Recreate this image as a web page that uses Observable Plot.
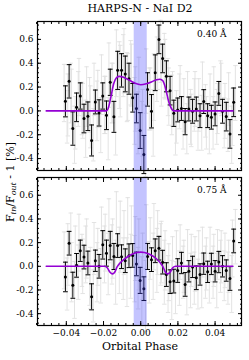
<!DOCTYPE html>
<html><head><meta charset="utf-8">
<script src="https://cdn.jsdelivr.net/npm/d3@7"></script>
<script src="https://cdn.jsdelivr.net/npm/@observablehq/plot@0.6"></script>
<style>
body{margin:0;background:#fff;}
#wrap{position:relative;width:249px;height:360px;font-family:"DejaVu Serif",serif;color:#000;overflow:hidden;}
#wrap svg{position:absolute;left:0;}
.title{position:absolute;left:39px;width:202px;top:2px;text-align:center;font-size:11px;}
.xlab{position:absolute;left:39px;width:202px;top:340px;text-align:center;font-size:11px;}
.ylab{position:absolute;left:11px;top:182px;transform:translate(-50%,-50%) rotate(-90deg);white-space:nowrap;font-size:11px;}
.ylab sub{font-size:8px;font-style:italic;vertical-align:-2px;}
</style></head><body><div id="wrap">
<div class="title">HARPS-N - NaI D2</div>
<div class="ylab">F<sub>in</sub>/F<sub>out</sub> - 1 [%]</div>
<div class="xlab">Orbital Phase</div>
</div>
<script>
const phase = [-0.0405,-0.0385,-0.0365,-0.0345,-0.0325,-0.0305,-0.0284,-0.0264,-0.0244,-0.0224,-0.0204,-0.0184,-0.0164,-0.0144,-0.0124,-0.0103,-0.0083,-0.0063,-0.0043,-0.0023,-0.0003,0.0017,0.0037,0.0058,0.0078,0.0098,0.0118,0.0138,0.0158,0.0178,0.0199,0.0219,0.0239,0.0259,0.0279,0.0299,0.0319,0.0339,0.036,0.038,0.04,0.042,0.044,0.046,0.048,0.05];
const topVal = [0.08,0.248,-0.148,0.03,0.125,-0.064,-0.045,-0.248,0.075,-0.017,0.125,-0.037,0.24,-0.05,0.34,0.34,0.31,0.27,0.11,0.02,-0.165,-0.366,0.18,-0.003,0.32,0.6,0.44,0.29,0.17,-0.02,0.008,0.02,-0.09,0.016,-0.003,0.016,-0.04,0.078,-0.04,-0.053,-0.025,0.147,-0.003,-0.048,-0.193,0.072];
const topErr = [0.13,0.14,0.14,0.12,0.11,0.12,0.12,0.13,0.10,0.11,0.11,0.12,0.11,0.13,0.16,0.14,0.15,0.13,0.12,0.12,0.15,0.16,0.14,0.14,0.15,0.12,0.12,0.13,0.12,0.11,0.1,0.1,0.11,0.1,0.1,0.1,0.1,0.1,0.1,0.1,0.1,0.1,0.1,0.12,0.12,0.12];
const botVal = [-0.09,0.195,-0.16,0.008,0.131,0.078,0.028,-0.258,0.047,0.0,0.181,0.111,0.175,0.083,0.175,0.081,0.047,0.089,0.092,0.02,-0.119,-0.189,0.083,0.056,0.131,0.153,0.035,-0.07,-0.13,-0.125,-0.036,0.028,-0.153,-0.042,-0.005,-0.097,-0.069,0.022,-0.047,0.02,-0.042,0.036,0.0,-0.036,-0.103,0.214];
const botErr = [0.125,0.1,0.11,0.1,0.09,0.1,0.1,0.11,0.09,0.1,0.12,0.11,0.12,0.11,0.1,0.1,0.1,0.1,0.1,0.1,0.11,0.1,0.11,0.1,0.1,0.1,0.1,0.1,0.1,0.1,0.1,0.09,0.1,0.09,0.09,0.1,0.09,0.09,0.09,0.09,0.09,0.09,0.09,0.09,0.1,0.1];

const grayPhaseA = [-0.0412,-0.0392,-0.0372,-0.0352,-0.0332,-0.0312,-0.0291,-0.0271,-0.0251,-0.0231,-0.0211,-0.0191,-0.0171,-0.0151,-0.0131,-0.0110,-0.0090,-0.0070,-0.0050,-0.0030,-0.0010,0.0010,0.0030,0.0051,0.0071,0.0091,0.0111,0.0131,0.0151,0.0171,0.0192,0.0212,0.0232,0.0252,0.0272,0.0292,0.0312,0.0332,0.0353,0.0373,0.0393,0.0413,0.0433,0.0453,0.0473,0.0493];
const grayPhaseB = [-0.0396,-0.0376,-0.0356,-0.0336,-0.0316,-0.0296,-0.0275,-0.0255,-0.0235,-0.0215,-0.0195,-0.0175,-0.0155,-0.0135,-0.0115,-0.0094,-0.0074,-0.0054,-0.0034,-0.0014,0.0006,0.0026,0.0046,0.0067,0.0087,0.0107,0.0127,0.0147,0.0167,0.0187,0.0208,0.0228,0.0248,0.0268,0.0288,0.0308,0.0328,0.0348,0.0369,0.0389,0.0409,0.0429,0.0449,0.0469,0.0489,0.0509];
const topGrayA = [0.15,0.05,0.1,-0.1,0.2,0.0,0.12,-0.05,0.18,0.1,0.22,0.05,0.3,0.15,0.4,0.25,0.42,0.2,0.3,0.1,0.15,-0.1,0.25,0.1,0.2,0.45,0.3,0.35,0.12,0.1,-0.05,0.15,0.05,0.12,-0.08,0.1,0.05,0.2,-0.1,0.08,0.15,0.02,0.18,0.0,0.1,-0.05];
const topGrayB = [-0.05,0.15,-0.2,0.1,0.02,-0.15,0.05,-0.2,0.0,-0.12,0.05,-0.15,0.15,-0.1,0.3,0.38,0.2,0.32,0.0,-0.1,-0.2,-0.25,0.1,-0.1,0.35,0.5,0.38,0.2,0.05,-0.15,0.08,-0.1,-0.15,-0.05,0.05,-0.12,-0.1,0.0,-0.15,-0.1,-0.05,0.2,-0.1,-0.12,-0.2,0.15];
const botGrayA = [0.05,0.1,-0.05,0.12,0.2,0.0,0.15,-0.1,0.15,0.08,0.25,0.2,0.3,0.15,0.35,0.25,0.2,0.3,0.25,0.15,0.1,0.0,0.25,0.15,0.25,0.2,0.12,0.05,-0.05,0.02,0.08,0.12,0.0,0.1,0.05,0.02,0.08,0.12,0.02,0.1,0.05,0.1,0.08,0.05,0.0,0.15];
const botGrayB = [-0.15,0.2,-0.2,-0.05,0.05,0.1,-0.1,-0.25,-0.05,-0.08,0.1,0.02,0.1,-0.05,0.05,-0.02,-0.05,0.0,-0.02,-0.1,-0.2,-0.25,-0.05,0.0,0.05,0.1,-0.05,-0.15,-0.2,-0.18,-0.1,-0.05,-0.2,-0.12,-0.1,-0.15,-0.12,-0.05,-0.1,-0.05,-0.12,0.0,-0.08,-0.1,-0.15,0.25];
const grayErrA = [0.24,0.26,0.25,0.22,0.24,0.23,0.25,0.26,0.22,0.24,0.25,0.24,0.27,0.25,0.28,0.3,0.27,0.28,0.26,0.27,0.3,0.28,0.27,0.26,0.28,0.27,0.26,0.25,0.24,0.23,0.22,0.23,0.22,0.21,0.22,0.23,0.22,0.21,0.22,0.23,0.22,0.21,0.22,0.23,0.22,0.24];
const grayErrB = [0.22,0.25,0.24,0.23,0.22,0.24,0.23,0.22,0.25,0.23,0.24,0.26,0.25,0.27,0.28,0.26,0.29,0.27,0.28,0.26,0.28,0.3,0.26,0.28,0.27,0.26,0.27,0.24,0.25,0.22,0.23,0.22,0.21,0.23,0.22,0.21,0.23,0.22,0.21,0.22,0.23,0.22,0.21,0.22,0.24,0.23];

const modelTopPhase = [-0.0508,-0.0185,-0.0175,-0.016,-0.0145,-0.013,-0.0115,-0.009,-0.006,-0.003,0.0,0.003,0.006,0.0085,0.0104,0.012,0.0135,0.015,0.0165,0.0177,0.0496];
const modelTopVal   = [0,0,0.02,0.12,0.23,0.28,0.29,0.28,0.257,0.232,0.22,0.228,0.245,0.262,0.266,0.25,0.18,0.08,0.02,0,0];
const modelBotPhase = [-0.0508,-0.0195,-0.018,-0.0165,-0.0152,-0.014,-0.0127,-0.011,-0.008,-0.005,-0.002,0.0,0.002,0.005,0.008,0.0105,0.012,0.0133,0.0145,0.0158,0.0172,0.0188,0.0496];
const modelBotVal   = [0,0,-0.012,-0.05,-0.064,-0.05,-0.005,0.03,0.07,0.1,0.117,0.12,0.117,0.1,0.07,0.03,-0.005,-0.05,-0.064,-0.05,-0.012,0,0];

const band = [{x1:-0.0035, x2:0.0035}];
const xMajor = [-0.04,-0.02,0.0,0.02,0.04];
const xTickLabels = ["\u22120.04","\u22120.02","0.00","0.02","0.04"];
const yMajor = [-0.4,-0.2,0.0,0.2,0.4,0.6];
const yTickLabels = ["-0.4","-0.2","0.0","0.2","0.4","0.6"];
const xMinor = d3.range(-0.056, 0.0545, 0.004).map(v => +v.toFixed(4));
const yMinor = d3.range(-0.48, 0.75, 0.04).map(v => +v.toFixed(2));
const panelLabels = ["0.40 \u00c5", "0.75 \u00c5"];

const capSymbol = {draw(ctx, size){ const r = Math.sqrt(size/Math.PI); ctx.moveTo(-r,0); ctx.lineTo(r,0); }};

function rows(ph, val, err){ return ph.map((p,i)=>({p, v: val[i], e: err[i]})); }

function errMarks(data, color, r, sw){
  return [
    Plot.ruleX(data, {x:"p", y1: d=>d.v-d.e, y2: d=>d.v+d.e, stroke: color, strokeWidth: sw}),
    Plot.dot(data, {x:"p", y: d=>d.v+d.e, symbol: capSymbol, r, stroke: color, fill: "none", strokeWidth: sw}),
    Plot.dot(data, {x:"p", y: d=>d.v-d.e, symbol: capSymbol, r, stroke: color, fill: "none", strokeWidth: sw})
  ];
}

function panel(k, h, mt, mb, showX){
  const val = k===0 ? topVal : botVal, err = k===0 ? topErr : botErr;
  const gA = k===0 ? topGrayA : botGrayA, gB = k===0 ? topGrayB : botGrayB;
  const mP = k===0 ? modelTopPhase : modelBotPhase, mV = k===0 ? modelTopVal : modelBotVal;
  const black = rows(phase, val, err);
  const gray = rows(grayPhaseA, gA, grayErrA).concat(rows(grayPhaseB, gB, grayErrB));
  const model = mP.map((p,i)=>({p, v: mV[i]}));
  return Plot.plot({
    width: 249, height: h, marginLeft: 37, marginRight: 8, marginTop: mt, marginBottom: mb,
    x: {domain: [-0.0555, 0.0542]},
    y: {domain: [-0.5, 0.75]},
    style: {fontFamily: "DejaVu Serif", fontSize: "9px", color: "black", background: "transparent", overflow: "visible"},
    marks: [
      ...errMarks(gray, "#e0e0e0", 2.2, 0.9),
      ...errMarks(black, "#000", 2.4, 1),
      Plot.dot(black, {x:"p", y:"v", r: 1.5, fill: "#000", stroke: "none"}),
      Plot.rect(band, {x1:"x1", x2:"x2", fill: "#3a3aff", fillOpacity: 0.3}),
      Plot.line(model, {x:"p", y:"v", stroke: "#9400d3", strokeWidth: 1.6, curve: "monotone-x"}),
      Plot.text([panelLabels[k]], {frameAnchor: "top-right", dx: -15, dy: 13, text: d=>d, textAnchor: "end", lineAnchor: "middle", fontSize: 9}),
      Plot.axisX(xMajor, {anchor: "bottom", tickSize: -4, tickPadding: 8, label: null,
        tickFormat: (d,i)=>xTickLabels[i], fill: showX ? "black" : "none", fontSize: 9}),
      Plot.axisX(xMinor, {anchor: "bottom", tickSize: -2, label: null, fill: "none"}),
      Plot.axisX(xMajor, {anchor: "top", tickSize: -4, label: null, fill: "none"}),
      Plot.axisX(xMinor, {anchor: "top", tickSize: -2, label: null, fill: "none"}),
      Plot.axisY(yMajor, {anchor: "left", tickSize: -4, tickPadding: 8, label: null,
        tickFormat: (d,i)=>yTickLabels[i], fontSize: 9}),
      Plot.axisY(yMinor, {anchor: "left", tickSize: -2, label: null, fill: "none"}),
      Plot.axisY(yMajor, {anchor: "right", tickSize: -4, label: null, fill: "none"}),
      Plot.axisY(yMinor, {anchor: "right", tickSize: -2, label: null, fill: "none"}),
      Plot.frame({stroke: "#000", strokeWidth: 1.2})
    ]
  });
}

const wrap = document.getElementById("wrap");
const p1 = panel(0, 172, 21, 2, false);
p1.style.top = "0px";
const p2 = panel(1, 185, 2, 35, true);
p2.style.top = "175px";
wrap.appendChild(p1);
wrap.appendChild(p2);
</script></body></html>
